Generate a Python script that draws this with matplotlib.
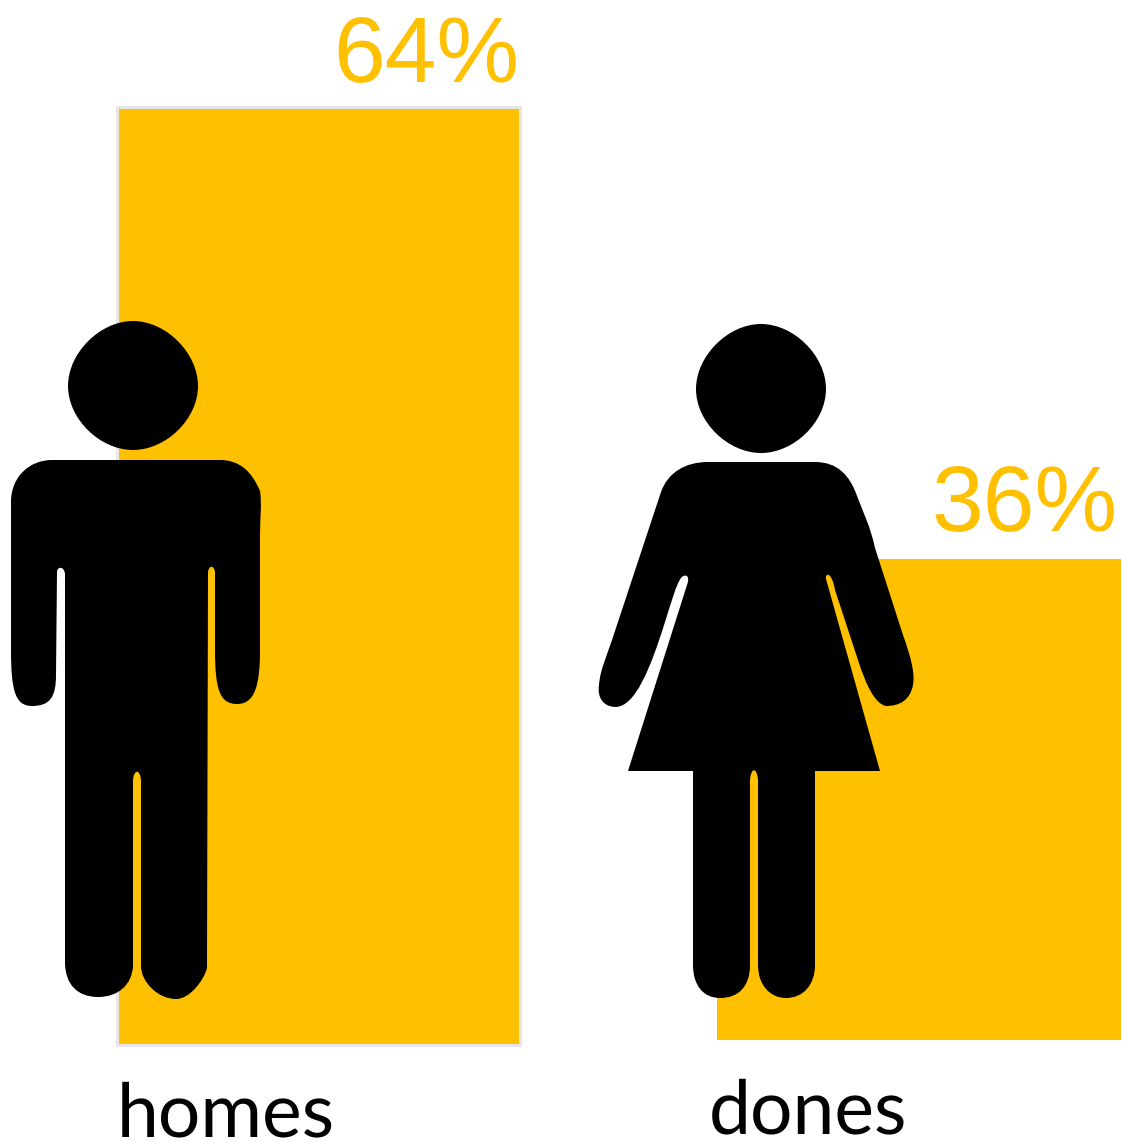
import matplotlib
matplotlib.use("Agg")
from matplotlib import pyplot as plt
from matplotlib import font_manager as fm
from matplotlib.path import Path
from matplotlib.patches import PathPatch

plt.rcParams["text.hinting"] = "no_hinting"

W = 1122
H = 1141

groups = ["homes", "dones"]
shares = [64, 36]
share_labels = ["64%", "36%"]

amber = "#FFC000"

# silhouettes, traced in picture pixels
man_head = [("M", 133, 321), ("C", 166, 321, 198, 353, 198, 386), ("C", 198, 419, 166, 450, 133, 450),
            ("C", 100, 450, 68, 419, 68, 386), ("C", 68, 353, 100, 321, 133, 321)]
man_body = [("M", 52, 460), ("L", 220, 460), ("C", 240, 460, 252, 472, 260, 491), ("C", 262, 505, 260, 520, 260, 535),
            ("L", 260, 650), ("C", 260, 685, 255, 704, 237, 704), ("C", 220, 704, 215, 690, 215, 650),
            ("L", 215, 572), ("C", 214, 565, 209, 565, 208, 572), ("L", 207, 968),
            ("C", 204, 980, 190, 999, 176, 999), ("C", 158, 999, 141, 982, 141, 966),
            ("L", 141, 780), ("C", 140, 769, 134, 769, 133, 780), ("L", 133, 966),
            ("C", 132, 985, 118, 997, 98, 997), ("C", 78, 997, 65, 985, 65, 962),
            ("L", 65, 575), ("C", 65, 566, 57, 566, 57, 572), ("L", 56, 675),
            ("C", 56, 697, 50, 706, 32, 706), ("C", 15, 706, 11, 690, 11, 650),
            ("L", 11, 500), ("C", 12, 476, 30, 460, 52, 460)]
woman_head = [("M", 761, 324), ("C", 794, 324, 826, 356, 826, 389), ("C", 826, 422, 794, 453, 761, 453),
              ("C", 728, 453, 696, 422, 696, 389), ("C", 696, 356, 728, 324, 761, 324)]
woman_body = [("M", 708, 462), ("L", 815, 462), ("C", 838, 462, 850, 476, 857, 496), ("C", 863, 512, 870, 525, 875, 548),
              ("L", 903, 635), ("C", 912, 660, 915, 675, 913, 685), ("C", 910, 700, 900, 706, 886, 706),
              ("C", 875, 704, 866, 685, 858, 660), ("L", 835, 590), ("C", 832, 572, 825, 572, 826, 579),
              ("L", 880, 771), ("L", 815, 771), ("L", 815, 965), ("C", 815, 985, 803, 998, 786, 998),
              ("C", 770, 998, 758, 985, 758, 965), ("L", 758, 780), ("C", 757, 767, 751, 767, 750, 780),
              ("L", 750, 965), ("C", 750, 987, 738, 998, 720, 998), ("C", 703, 998, 693, 985, 693, 965),
              ("L", 693, 771), ("L", 628, 771), ("L", 687, 585), ("C", 691, 574, 684, 574, 681, 578),
              ("C", 676, 585, 672, 600, 665, 622), ("C", 650, 670, 635, 706, 616, 707),
              ("C", 603, 707, 597, 697, 599, 685), ("C", 600, 670, 607, 655, 612, 640),
              ("L", 661, 492), ("C", 668, 472, 686, 462, 708, 462)]


def make_path(cmds):
    verts = []
    codes = []
    for c in cmds:
        if c[0] == "M":
            verts.append(c[1:3])
            codes.append(Path.MOVETO)
        elif c[0] == "L":
            verts.append(c[1:3])
            codes.append(Path.LINETO)
        else:
            verts += [c[1:3], c[3:5], c[5:7]]
            codes += [Path.CURVE4] * 3
    return Path(verts, codes)


def px_axes(left, top, right, bottom):
    return fig.add_axes([left / W, 1 - bottom / H, (right - left) / W, (bottom - top) / H])


fig = plt.figure(figsize=(W / 100, H / 100), dpi=100)

# each bar sits in its own box, the two are not on one scale in the picture
ax1 = px_axes(116.5, 107, 520, 1045)
ax1.bar([0], [shares[0]], width=1, color=amber, edgecolor="#E7E6E6", linewidth=2.2, clip_on=False)
ax1.set_xlim(-0.5, 0.5)
ax1.set_ylim(0, shares[0])

ax2 = px_axes(717, 559, 1121, 1040)
ax2.bar([0], [shares[1]], width=1, color=amber)
ax2.set_xlim(-0.5, 0.5)
ax2.set_ylim(0, shares[1])

for a in (ax1, ax2):
    a.axis("off")

# overlay for the silhouettes
top = fig.add_axes([0, 0, 1, 1])
top.set_xlim(0, W)
top.set_ylim(H, 0)
top.axis("off")
top.patch.set_alpha(0)

for shape in (man_head, man_body, woman_head, woman_body):
    top.add_patch(PathPatch(make_path(shape), facecolor="black", edgecolor="none"))

pct_font = fm.FontProperties(fname=fm.findfont("Liberation Sans"), size=67)
fig.text(519 / W, 1 - 82 / H, share_labels[0], color=amber, fontproperties=pct_font, ha="right")
fig.text(1118 / W, 1 - 531 / H, share_labels[1], color=amber, fontproperties=pct_font, ha="right")

label_font = fm.FontProperties(fname=fm.findfont("Lato"), size=54)
fig.text(117 / W, 1 - 1136 / H, groups[0], color="black", fontproperties=label_font)
fig.text(709 / W, 1 - 1133 / H, groups[1], color="black", fontproperties=label_font)

fig.savefig("out.png", dpi=100)
